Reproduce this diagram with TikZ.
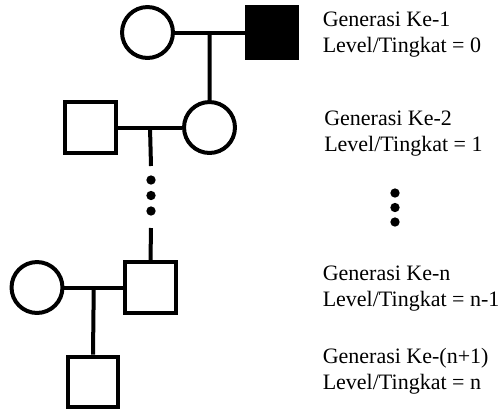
\documentclass[tikz,border=0pt]{standalone}
\usepackage{fontspec}
\setmainfont{Liberation Serif}
\usetikzlibrary{calc}
\begin{document}
\begin{tikzpicture}[x=0.75pt,y=-0.75pt,
  lw/.style={line width=3pt},
  fem/.style={circle,draw,lw,minimum size=38.2pt,inner sep=0pt},
  mal/.style={rectangle,draw,lw,minimum size=38.2pt,inner sep=0pt},
  aff/.style={mal,fill=black},
  pdot/.style={circle,fill=black,minimum size=7pt,inner sep=0pt},
  lab/.style={anchor=base west,align=left,inner sep=0pt,font=\fontsize{16.5}{19.5}\selectfont}]
\useasboundingbox (0,0) rectangle (504,411);
% generation 1
\node[fem] (c1) at (147.5,32.5) {};
\node[aff] (s1) at (272,32.5) {};
\coordinate (m1) at ($(c1.east)!0.5!(s1.west)$);
% generation 2
\node[fem] (c2) at (209.5,127.5) {};
\node[mal] (s2) at (90.5,127.5) {};
\coordinate (m2) at ($(s2.east)!0.5!(c2.west)$);
\coordinate (e2) at (151,166);
\node[pdot] (d1) at (151,180) {};
\node[pdot] (d2) at (151,195.5) {};
\node[pdot] (d3) at (151,211) {};
\coordinate (e3) at (151,228);
% generation n
\node[mal] (s3) at (150.5,287.5) {};
\node[fem] (c3) at (37,287.5) {};
\coordinate (m3) at ($(c3.east)!0.5!(s3.west)$);
% generation n+1
\node[mal] (s4) at (93,382) {};
% connectors
\draw[lw] (c1.east) -- (s1.west);
\draw[lw] (m1) -- (c2.north);
\draw[lw] (s2.east) -- (c2.west);
\draw[lw] (m2) -- (e2);
\draw[lw] (e3) -- (s3.north);
\draw[lw] (c3.east) -- (s3.west);
\draw[lw] (m3) -- (s4.north);
% labels (anchor at baseline of the second line)
\node[lab] (t1) at (322.5,52.5) {Generasi Ke-1\\Level/Tingkat = 0};
\node[lab] (t2) at (324,151) {Generasi Ke-2\\Level/Tingkat = 1};
\node[pdot] (r1) at (395,193) {};
\node[pdot] (r2) at (395,207.5) {};
\node[pdot] (r3) at (395,222) {};
\node[lab] (t3) at (322.5,306) {Generasi Ke-n\\Level/Tingkat = n-1};
\node[lab] (t4) at (322.5,389.5) {Generasi Ke-(n+1)\\Level/Tingkat = n};
\end{tikzpicture}
\end{document}
